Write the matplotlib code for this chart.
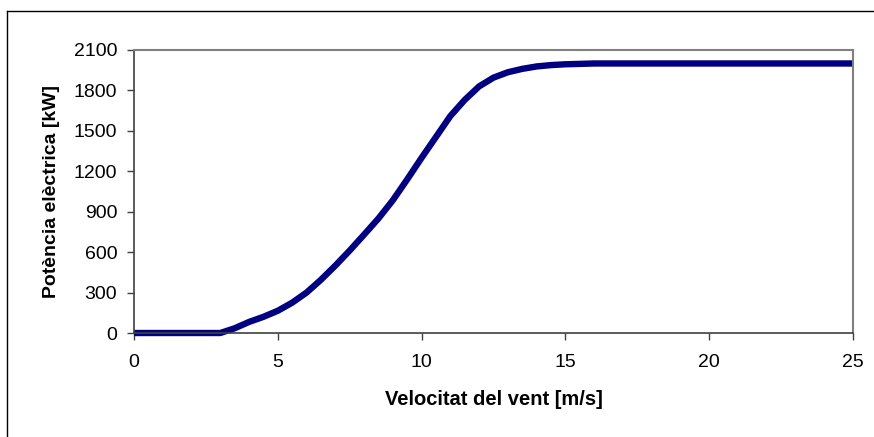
import matplotlib.pyplot as plt
from matplotlib.lines import Line2D

# wind speed [m/s] and electrical power [kW], every 0.5 m/s
wind_speed = [0, 0.5, 1, 1.5, 2, 2.5, 3, 3.5, 4, 4.5, 5, 5.5, 6, 6.5, 7, 7.5, 8, 8.5, 9, 9.5,
              10, 10.5, 11, 11.5, 12, 12.5, 13, 13.5, 14, 14.5, 15, 15.5, 16, 17, 18, 19, 20,
              21, 22, 23, 24, 25]
power_kw = [0, 0, 0, 0, 0, 0, 0, 35, 82, 120, 165, 225, 300, 395, 500, 612, 730, 850, 985, 1140,
            1300, 1455, 1610, 1730, 1830, 1895, 1935, 1960, 1978, 1988, 1994, 1997, 2000, 2000,
            2000, 2000, 2000, 2000, 2000, 2000, 2000, 2000]

x_ticks = [0, 5, 10, 15, 20, 25]
y_ticks = [0, 300, 600, 900, 1200, 1500, 1800, 2100]

plt.rcParams['font.family'] = ['Liberation Sans', 'DejaVu Sans']

fig = plt.figure(figsize=(8.74, 4.37), dpi=100)
ax = fig.add_axes([134 / 874, 1 - 333 / 437, (853 - 134) / 874, (333 - 50) / 437])

ax.plot(wind_speed, power_kw, color='#000080', linewidth=4.6, solid_capstyle='butt',
        solid_joinstyle='round', clip_on=False)

ax.set_xlim(0, 25)
ax.set_ylim(0, 2100)
ax.set_xticks(x_ticks)
ax.set_yticks(y_ticks)
ax.tick_params(direction='out', length=5, width=1, color='#404040', labelsize=14)
ax.tick_params(axis='x', pad=10)
ax.tick_params(axis='y', pad=7)

for side in ['top', 'right']:
    ax.spines[side].set_color('#808080')
    ax.spines[side].set_linewidth(1.5)
for side in ['left', 'bottom']:
    ax.spines[side].set_color('#404040')
    ax.spines[side].set_linewidth(1.2)

ax.set_xlabel('Velocitat del vent [m/s]', fontsize=14.5, fontweight='bold', labelpad=14)
ax.set_ylabel('Potència elèctrica [kW]', fontsize=14, fontweight='bold', labelpad=10)

# outer chart border (only top and left edges fall inside the picture)
fig.add_artist(Line2D([7 / 874, 7 / 874], [0, 1 - 11 / 437], color='black', linewidth=1,
                      transform=fig.transFigure))
fig.add_artist(Line2D([7 / 874, 1], [1 - 11 / 437, 1 - 11 / 437], color='black', linewidth=1,
                      transform=fig.transFigure))

fig.savefig('out.png', dpi=100)
